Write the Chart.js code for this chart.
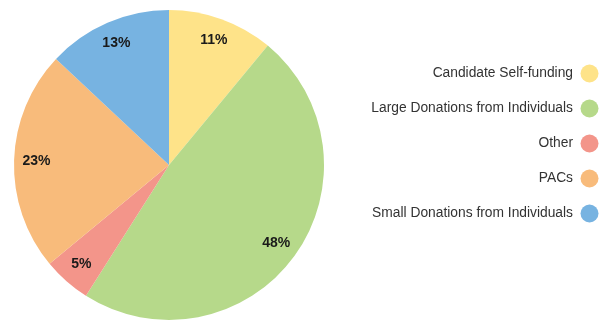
<!DOCTYPE html>
<html>
<head>
<meta charset="utf-8">
<script src="https://cdn.jsdelivr.net/npm/chart.js@4/dist/chart.umd.min.js"></script>
<style>
  html, body { margin: 0; padding: 0; background: #ffffff; }
  #wrap { position: relative; width: 608px; height: 323px; }
</style>
</head>
<body>
<div id="wrap"><canvas id="c" width="608" height="323"></canvas></div>
<script>
const categories = [
  "Candidate Self-funding",
  "Large Donations from Individuals",
  "Other",
  "PACs",
  "Small Donations from Individuals"
];
const shares = [11, 48, 5, 23, 13];
const sliceColors = ["#FEE389", "#B6D98A", "#F3958A", "#F8BB7B", "#77B3E1"];

// Percentage labels drawn near the outer edge of each slice
const sliceLabels = {
  id: "sliceLabels",
  afterDatasetsDraw(chart) {
    const { ctx } = chart;
    const meta = chart.getDatasetMeta(0);
    const data = chart.data.datasets[0].data;
    ctx.save();
    ctx.font = "bold 14px 'Liberation Sans', Arial, sans-serif";
    ctx.fillStyle = "#1a1a1a";
    ctx.textAlign = "center";
    ctx.textBaseline = "middle";
    meta.data.forEach((arc, i) => {
      const p = arc.getProps(["x", "y", "startAngle", "endAngle", "outerRadius"], true);
      const mid = (p.startAngle + p.endAngle) / 2;
      const r = p.outerRadius * 0.855;
      ctx.fillText(data[i] + "%", p.x + Math.cos(mid) * r, p.y + Math.sin(mid) * r);
    });
    ctx.restore();
  }
};

// Legend on the right: right-aligned text with a round swatch after it
const sideLegend = {
  id: "sideLegend",
  afterDraw(chart) {
    const { ctx } = chart;
    const labels = chart.data.labels;
    const colors = chart.data.datasets[0].backgroundColor;
    const textRight = 573;
    const dotX = 589.5;
    const top = 73.5;
    const step = 35;
    ctx.save();
    ctx.font = "13.8px 'Liberation Sans', Arial, sans-serif";
    ctx.textAlign = "right";
    ctx.textBaseline = "middle";
    labels.forEach((lab, i) => {
      const y = top + i * step;
      ctx.fillStyle = "#333333";
      ctx.fillText(lab, textRight, y);
      ctx.beginPath();
      ctx.arc(dotX, y, 9, 0, Math.PI * 2);
      ctx.fillStyle = colors[i];
      ctx.fill();
    });
    ctx.restore();
  }
};

new Chart(document.getElementById("c"), {
  type: "pie",
  data: {
    labels: categories,
    datasets: [{
      data: shares,
      backgroundColor: sliceColors,
      borderWidth: 0
    }]
  },
  options: {
    responsive: false,
    animation: false,
    layout: { padding: { left: 14, top: 10, bottom: 3, right: 284 } },
    plugins: {
      legend: { display: false },
      tooltip: { enabled: false }
    }
  },
  plugins: [sliceLabels, sideLegend]
});
</script>
</body>
</html>
